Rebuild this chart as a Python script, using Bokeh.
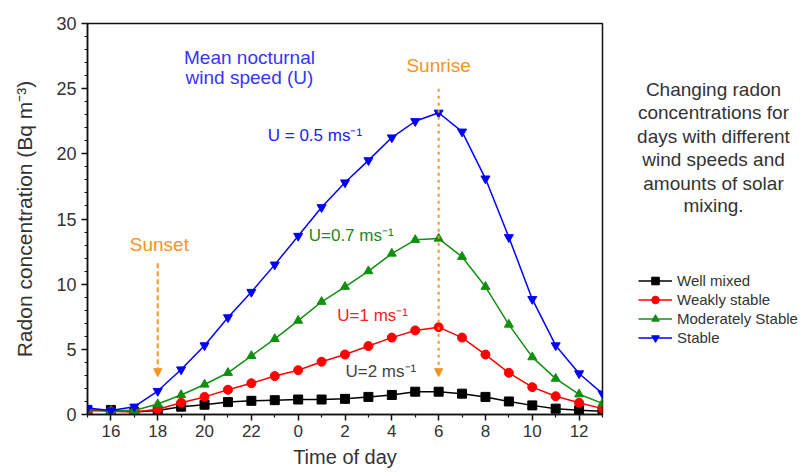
from bokeh.plotting import figure
from bokeh.layouts import row
from bokeh.models import Range1d, FixedTicker, Label, Arrow, NormalHead, Legend, LegendItem
from bokeh.embed import file_html
from bokeh.resources import INLINE

# ---- data ----
hours = [15, 16, 17, 18, 19, 20, 21, 22, 23, 24, 25, 26, 27, 28, 29, 30, 31, 32, 33, 34, 35, 36, 37]
well_mixed = [0.3, 0.35, 0.2, 0.3, 0.6, 0.75, 0.95, 1.05, 1.1, 1.15, 1.15, 1.2, 1.35, 1.5, 1.75, 1.75,
              1.6, 1.35, 1.0, 0.7, 0.45, 0.33, 0.25]
weakly_stable = [0.3, 0.25, 0.2, 0.4, 0.9, 1.35, 1.9, 2.4, 2.95, 3.4, 4.05, 4.6, 5.25, 5.9, 6.45, 6.7,
                 5.9, 4.6, 3.2, 2.1, 1.4, 0.9, 0.45]
moderately_stable = [0.4, 0.3, 0.3, 0.8, 1.5, 2.3, 3.2, 4.5, 5.8, 7.2, 8.65, 9.8, 11.0, 12.35, 13.4, 13.5,
                     12.1, 9.8, 6.9, 4.4, 2.75, 1.55, 0.85]
stable = [0.5, 0.3, 0.6, 1.8, 3.45, 5.3, 7.45, 9.4, 11.5, 13.7, 15.9, 17.8, 19.5, 21.25, 22.5, 23.15,
          21.7, 18.1, 13.6, 8.85, 5.3, 3.15, 1.6]
series_names = ["Well mixed", "Weakly stable", "Moderately Stable", "Stable"]

x_major_ticks = [16, 18, 20, 22, 24, 26, 28, 30, 32, 34, 36]
x_tick_labels = ["16", "18", "20", "22", "0", "2", "4", "6", "8", "10", "12"]
x_minor_ticks = [15, 17, 19, 21, 23, 25, 27, 29, 31, 33, 35, 37]
y_major_ticks = [0, 5, 10, 15, 20, 25, 30]
y_minor_ticks = list(range(0, 31))

right_text = ["Changing radon", "concentrations for", "days with different",
              "wind speeds and", "amounts of solar", "mixing."]

FONT = "Liberation Sans"
ORANGE = "#f7931e"
H = 472

p = figure(width=608, height=H, output_backend="svg", toolbar_location=None,
           x_range=Range1d(15, 37), y_range=Range1d(0, 30),
           min_border_left=87, min_border_right=6, min_border_top=23, min_border_bottom=58)
p.grid.visible = False
p.outline_line_color = "#111111"
p.outline_line_width = 1.5

for ax in (p.xaxis[0], p.yaxis[0]):
    ax.axis_line_color = "#111111"
    ax.axis_line_width = 1.5
    ax.major_tick_line_color = "#111111"
    ax.minor_tick_line_color = "#111111"
    ax.major_tick_line_width = 1.5
    ax.minor_tick_line_width = 1.2
    ax.major_tick_out = 6
    ax.major_tick_in = 0
    ax.minor_tick_out = 3
    ax.minor_tick_in = 0
    ax.major_label_text_font = FONT
    ax.major_label_text_color = "#333333"
    ax.axis_label_text_font = FONT
    ax.axis_label_text_font_style = "normal"
    ax.axis_label_text_color = "#333333"

p.xaxis.ticker = FixedTicker(ticks=x_major_ticks, minor_ticks=x_minor_ticks)
p.xaxis.major_label_overrides = {t: l for t, l in zip(x_major_ticks, x_tick_labels)}
p.xaxis.major_label_text_font_size = "17px"
p.xaxis.major_label_standoff = 4
p.xaxis.axis_label = "Time of day"
p.xaxis.axis_label_text_font_size = "20px"
p.xaxis.axis_label_standoff = 6

p.yaxis.ticker = FixedTicker(ticks=y_major_ticks, minor_ticks=y_minor_ticks)
p.yaxis.major_label_text_font_size = "18px"
p.yaxis.major_label_standoff = 5
p.yaxis.axis_label = "Radon concentration (Bq m\u207b\u00b3)"
p.yaxis.axis_label_text_font_size = "21px"
p.yaxis.axis_label_standoff = 17

styles = [
    (well_mixed, "black", "square"),
    (weakly_stable, "#ff0000", "circle"),
    (moderately_stable, "#109010", "triangle"),
    (stable, "#0000ff", "inverted_triangle"),
]
for vals, col, mk in styles:
    p.line(hours, vals, line_color=col, line_width=1.5)
    p.scatter(hours, vals, marker=mk, size=9, fill_color=col, line_color=col)

# arrows
p.add_layout(Arrow(x_start=18, y_start=11.6, x_end=18, y_end=2.9, line_color=ORANGE, line_width=2,
                   line_dash="5 3", end=NormalHead(size=8, fill_color=ORANGE, line_color=ORANGE)))
p.add_layout(Arrow(x_start=30, y_start=25.0, x_end=30, y_end=2.9, line_color=ORANGE, line_width=2,
                   line_dash="3 4", end=NormalHead(size=8, fill_color=ORANGE, line_color=ORANGE)))


def lab(fig, x, y, text, color, size="19px", align="left"):
    fig.add_layout(Label(x=x, y=y, text=text, text_color=color, text_font=FONT, text_font_size=size,
                         text_align=align, text_baseline="middle"))


lab(p, 21.92, 27.42, "Mean nocturnal", "#3535ff", align="center")
lab(p, 21.92, 25.88, "wind speed (U)", "#3535ff", align="center")
lab(p, 22.70, 21.44, "U = 0.5 ms\u207b\u00b9", "#2020ff", size="17px")
lab(p, 24.45, 13.76, "U=0.7 ms\u207b\u00b9", "#208a20", size="17px")
lab(p, 25.67, 7.62, "U=1 ms\u207b\u00b9", "#ff2020", size="17px")
lab(p, 26.02, 3.27, "U=2 ms\u207b\u00b9", "#444444", size="17px")
lab(p, 18.07, 13.07, "Sunset", ORANGE, align="center")
lab(p, 30.0, 26.8, "Sunrise", ORANGE, align="center")

# ---- right-hand panel: caption text and legend ----
# its frame shares top/bottom borders with the main plot (row alignment), so the
# y range is set to run in pixel units from the frame bottom (414) to top (23)
W2 = 192
q = figure(width=W2, height=H, output_backend="svg", toolbar_location=None,
           x_range=Range1d(0, W2), y_range=Range1d(414, 23),
           x_axis_location=None, y_axis_location=None, min_border=0)
q.grid.visible = False
q.outline_line_color = None

right_y = [89, 111.7, 136, 159.3, 182.7, 205]
for t, yy in zip(right_text, right_y):
    lab(q, 105, yy, t, "#333333", align="center")

items = []
for (vals, col, mk), name in zip(styles, series_names):
    lr = q.line(hours, vals, line_color=col, line_width=1.5, visible=False)
    sr = q.scatter(hours, vals, marker=mk, size=9, fill_color=col, line_color=col, visible=False)
    items.append(LegendItem(label=name, renderers=[lr, sr]))

legend = Legend(items=items, location=(30, 67), padding=0, margin=0, spacing=0,
                glyph_width=34, glyph_height=19, label_height=19, label_standoff=5,
                label_text_font=FONT, label_text_font_size="15px", label_text_color="#333333",
                border_line_color=None, background_fill_alpha=0)
q.add_layout(legend)

layout = row(p, q, spacing=0)
open("out.html", "w").write(file_html(layout, INLINE))
